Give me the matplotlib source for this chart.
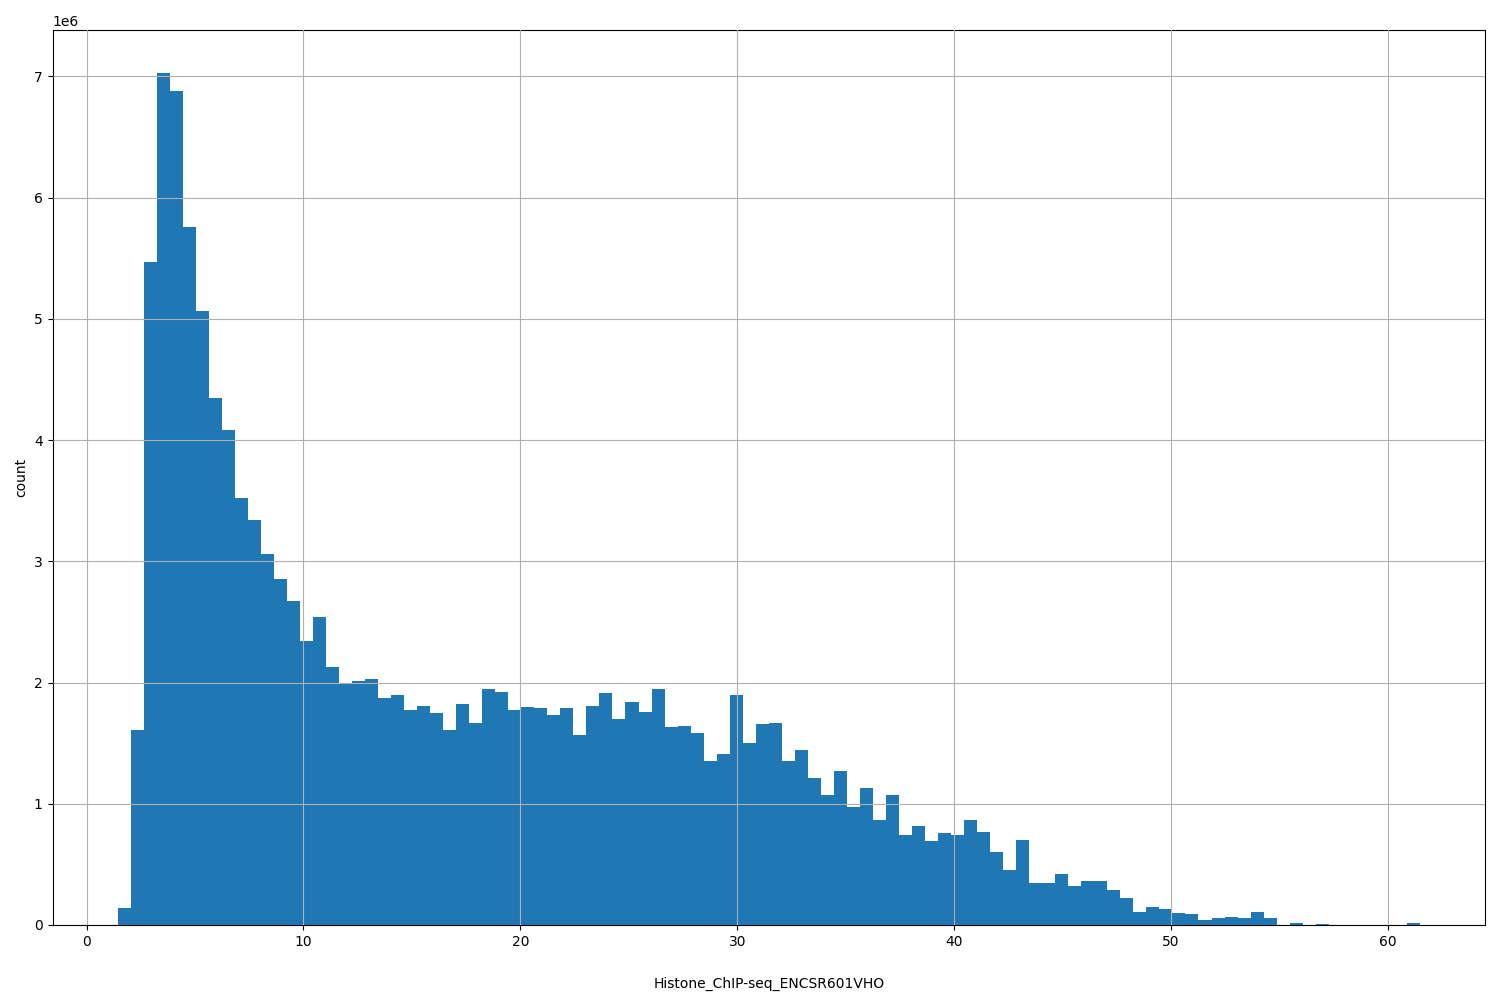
import numpy as np
import matplotlib.pyplot as plt

# histogram counts (units of 1e6), 100 bins
counts = [0.14, 1.61, 5.47, 7.03, 6.88, 5.76, 5.06, 4.35, 4.08, 3.52,
          3.34, 3.06, 2.85, 2.67, 2.34, 2.54, 2.13, 2.00, 2.01, 2.03,
          1.87, 1.90, 1.77, 1.81, 1.75, 1.61, 1.82, 1.67, 1.95, 1.92,
          1.77, 1.80, 1.79, 1.73, 1.79, 1.57, 1.81, 1.91, 1.70, 1.84,
          1.76, 1.95, 1.63, 1.64, 1.58, 1.35, 1.41, 1.90, 1.50, 1.66,
          1.67, 1.35, 1.44, 1.21, 1.07, 1.27, 0.97, 1.13, 0.87, 1.07,
          0.74, 0.82, 0.69, 0.76, 0.74, 0.87, 0.77, 0.60, 0.45, 0.70,
          0.35, 0.35, 0.42, 0.32, 0.36, 0.36, 0.29, 0.22, 0.11, 0.15,
          0.13, 0.10, 0.09, 0.04, 0.06, 0.07, 0.06, 0.11, 0.06, 0.0,
          0.015, 0.0, 0.008, 0.0, 0.0, 0.0, 0.0, 0.0, 0.0, 0.015]
xmin, xmax = 1.43, 61.48

edges = np.linspace(xmin, xmax, len(counts) + 1)
heights = np.array(counts) * 1e6

fig, ax = plt.subplots(figsize=(15, 10), dpi=100)
ax.hist(edges[:-1], bins=edges, weights=heights, color="#1f77b4")
ax.grid(True)
ax.set_axisbelow(False)
ax.set_xlabel("Histone_ChIP-seq_ENCSR601VHO", labelpad=20)
ax.set_ylabel("count")
plt.subplots_adjust(left=0.035, right=0.99, top=0.97, bottom=0.075)
plt.savefig("out.png")
plt.close()
